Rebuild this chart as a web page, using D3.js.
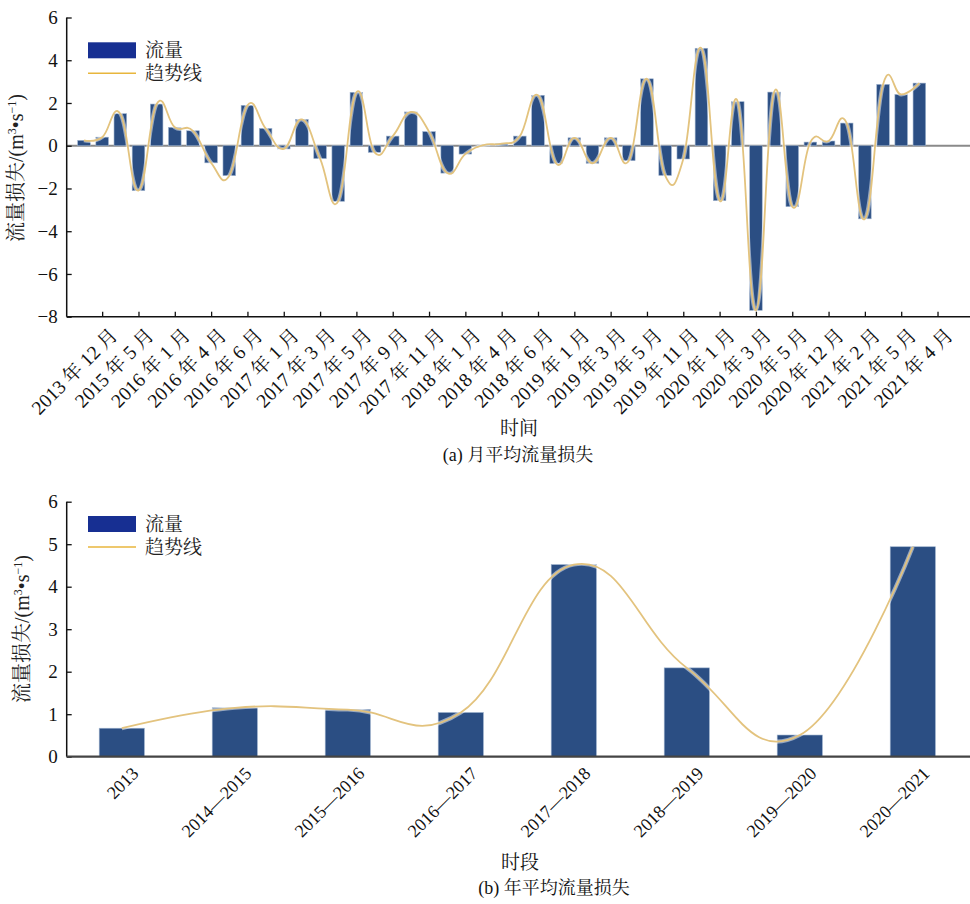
<!DOCTYPE html>
<html><head><meta charset="utf-8">
<script src="https://cdn.jsdelivr.net/npm/d3@7"></script>
<style>
html,body{margin:0;padding:0;background:#fff;}
svg{display:block;}
svg text{font-family:"Liberation Serif","Noto Serif CJK SC","Noto Sans CJK SC",serif !important;}
</style></head>
<body><svg id="c" width="970" height="904"></svg>
<script>
// ---------- DATA ----------
const monthlyTickLabels = ["2013 年 12 月","2015 年 5 月","2016 年 1 月","2016 年 4 月","2016 年 6 月","2017 年 1 月","2017 年 3 月","2017 年 5 月","2017 年 9 月","2017 年 11 月","2018 年 1 月","2018 年 4 月","2018 年 6 月","2019 年 1 月","2019 年 3 月","2019 年 5 月","2019 年 11 月","2020 年 1 月","2020 年 3 月","2020 年 5 月","2020 年 12 月","2021 年 2 月","2021 年 5 月","2021 年 4 月"];
const monthlyValues = [0.25,0.4,1.5,-2.1,1.95,0.86,0.7,-0.8,-1.4,1.89,0.81,-0.15,1.23,-0.6,-2.6,2.5,-0.31,0.45,1.58,0.66,-1.28,-0.39,0.03,0.1,0.45,2.36,-0.83,0.37,-0.82,0.37,-0.7,3.13,-1.39,-0.62,4.56,-2.57,2.06,-7.7,2.51,-2.85,0.17,0.22,1.06,-3.42,2.87,2.4,2.93];
const monthlyYTicks = [-8,-6,-4,-2,0,2,4,6];

const annualCategories = ["2013","2014—2015","2015—2016","2016—2017","2017—2018","2018—2019","2019—2020","2020—2021"];
const annualValues = [0.67,1.15,1.11,1.04,4.52,2.09,0.51,4.94];
const annualYTicks = [0,1,2,3,4,5,6];

const legendLabels = ["流量","趋势线"];

// ---------- STYLE ----------
const barColor = "#2b4e83", barStroke = "#9db2cd";
const trendColor = "#e3c37e";
const legendBar = "#172f92", legendLine = "#e8b63c";
const svg = d3.select("#c");
const curve = d3.curveCardinal.tension(-0.3);

function yLabel(g, x, y) {
  const t = g.append("text").attr("transform", `translate(${x},${y}) rotate(-90)`)
    .attr("text-anchor","middle").attr("font-size",20).attr("fill","#222");
  t.append("tspan").text("流量损失/(m");
  t.append("tspan").attr("font-size",12).attr("dy",-7).text("3");
  t.append("tspan").attr("dy",7).text("•s");
  t.append("tspan").attr("font-size",12).attr("dy",-7).text("−1");
  t.append("tspan").attr("dy",7).text(")");
}
function legend(g, x, y) {
  g.append("rect").attr("x",x).attr("y",y).attr("width",48).attr("height",16).attr("fill",legendBar);
  g.append("text").attr("x",x+57).attr("y",y+8).attr("dy","0.36em").attr("font-size",19).attr("fill","#222").text(legendLabels[0]);
  g.append("line").attr("x1",x).attr("x2",x+48).attr("y1",y+31).attr("y2",y+31).attr("stroke",legendLine).attr("stroke-width",1.6);
  g.append("text").attr("x",x+57).attr("y",y+31).attr("dy","0.36em").attr("font-size",19).attr("fill","#222").text(legendLabels[1]);
}
const fmt = d => d < 0 ? "−" + Math.abs(d) : String(d);

// ---------- CHART (a) ----------
{
  const g = svg.append("g");
  const x = d3.scaleLinear().domain([-1,49]).range([65.84,973.84]);
  const y = d3.scaleLinear().domain([-8,6]).range([316.7,17.5]);
  const bw = 12.6;
  g.append("line").attr("x1",67).attr("x2",970).attr("y1",y(0)).attr("y2",y(0)).attr("stroke","#8a8a8a").attr("stroke-width",2);
  g.selectAll("rect.b").data(monthlyValues).join("rect").attr("class","b")
    .attr("x",(d,i)=>x(i)-bw/2).attr("width",bw)
    .attr("y",d=>y(Math.max(0,d))).attr("height",d=>Math.abs(y(d)-y(0)))
    .attr("fill",barColor).attr("stroke",barStroke).attr("stroke-width",0.6);
  const line = d3.line().x((d,i)=>x(i)).y(d=>y(d)).curve(curve);
  g.append("path").attr("d",line(monthlyValues)).attr("fill","none").attr("stroke","#fff").attr("stroke-opacity",0.5).attr("stroke-width",4);
  g.append("path").attr("d",line(monthlyValues)).attr("fill","none").attr("stroke",trendColor).attr("stroke-width",1.8);
  const ya = g.append("g").attr("transform","translate(66.7,0)")
    .call(d3.axisLeft(y).tickValues(monthlyYTicks).tickSize(-5).tickPadding(9).tickFormat(fmt));
  ya.select(".domain").attr("stroke","#111").attr("stroke-width",1.5).attr("d",`M0,${y(6)}V${y(-8)}`);
  ya.selectAll(".tick line").attr("stroke","#111").attr("stroke-width",1.3);
  ya.selectAll("text").attr("font-size",19).attr("fill","#111");
  const tickIdx = monthlyTickLabels.map((d,i)=>2*i+1);
  const xa = g.append("g").attr("transform",`translate(0,${y(-8)})`)
    .call(d3.axisBottom(x).tickValues(tickIdx).tickSize(-5).tickFormat(""));
  xa.select(".domain").attr("stroke","#111").attr("stroke-width",1.5).attr("d","M66.7,0H970");
  xa.selectAll(".tick line").attr("stroke","#111").attr("stroke-width",1.3);
  g.selectAll("text.xl").data(monthlyTickLabels).join("text").attr("class","xl")
    .attr("transform",(d,i)=>`translate(${x(tickIdx[i])+7},${y(-8)+10}) rotate(-45)`)
    .attr("text-anchor","end").attr("dy","0.7em").attr("font-size",19.5).attr("fill","#111").text(d=>d);
  yLabel(g, 23, 168);
  legend(g, 88, 42.3);
  g.append("text").attr("x",519).attr("y",428).attr("dy","0.36em").attr("text-anchor","middle").attr("font-size",19).attr("fill","#111").text("时间");
  g.append("text").attr("x",518).attr("y",455).attr("dy","0.36em").attr("text-anchor","middle").attr("font-size",18).attr("fill","#111").text("(a) 月平均流量损失");
}

// ---------- CHART (b) ----------
{
  const g = svg.append("g");
  const x = d3.scaleBand().domain(annualCategories).range([65.3,969.3]).paddingInner(0.6).paddingOuter(0.3);
  const y = d3.scaleLinear().domain([0,6]).range([756.7,501.7]);
  g.selectAll("rect.b").data(annualValues).join("rect").attr("class","b")
    .attr("x",(d,i)=>x(annualCategories[i])).attr("width",x.bandwidth())
    .attr("y",d=>y(d)).attr("height",d=>y(0)-y(d))
    .attr("fill",barColor).attr("stroke",barStroke).attr("stroke-width",0.6);
  const line = d3.line().x((d,i)=>x(annualCategories[i])+x.bandwidth()/2).y(d=>y(d)).curve(curve);
  g.append("path").attr("d",line(annualValues)).attr("fill","none").attr("stroke","#fff").attr("stroke-opacity",0.5).attr("stroke-width",4);
  g.append("path").attr("d",line(annualValues)).attr("fill","none").attr("stroke",trendColor).attr("stroke-width",1.8);
  const ya = g.append("g").attr("transform","translate(66.7,0)")
    .call(d3.axisLeft(y).tickValues(annualYTicks).tickSize(-5).tickPadding(9).tickFormat(fmt));
  ya.select(".domain").attr("stroke","#111").attr("stroke-width",1.5).attr("d",`M0,${y(6)}V${y(0)}`);
  ya.selectAll(".tick line").attr("stroke","#111").attr("stroke-width",1.3);
  ya.selectAll("text").attr("font-size",19).attr("fill","#111");
  const xa = g.append("g").attr("transform",`translate(0,${y(0)})`)
    .call(d3.axisBottom(x).tickSize(0).tickFormat(""));
  xa.select(".domain").attr("stroke","#444").attr("stroke-width",2.2).attr("d","M66.7,0H970");
  g.selectAll("text.xl").data(annualCategories).join("text").attr("class","xl")
    .attr("transform",d=>`translate(${x(d)+x.bandwidth()/2+9},${y(0)+9}) rotate(-45)`)
    .attr("text-anchor","end").attr("dy","0.7em").attr("font-size",18).attr("fill","#111").text(d=>d);
  yLabel(g, 29, 629);
  legend(g, 88, 516);
  g.append("text").attr("x",520).attr("y",862).attr("dy","0.36em").attr("text-anchor","middle").attr("font-size",19).attr("fill","#111").text("时段");
  g.append("text").attr("x",554).attr("y",888).attr("dy","0.36em").attr("text-anchor","middle").attr("font-size",18).attr("fill","#111").text("(b) 年平均流量损失");
}
</script></body></html>
